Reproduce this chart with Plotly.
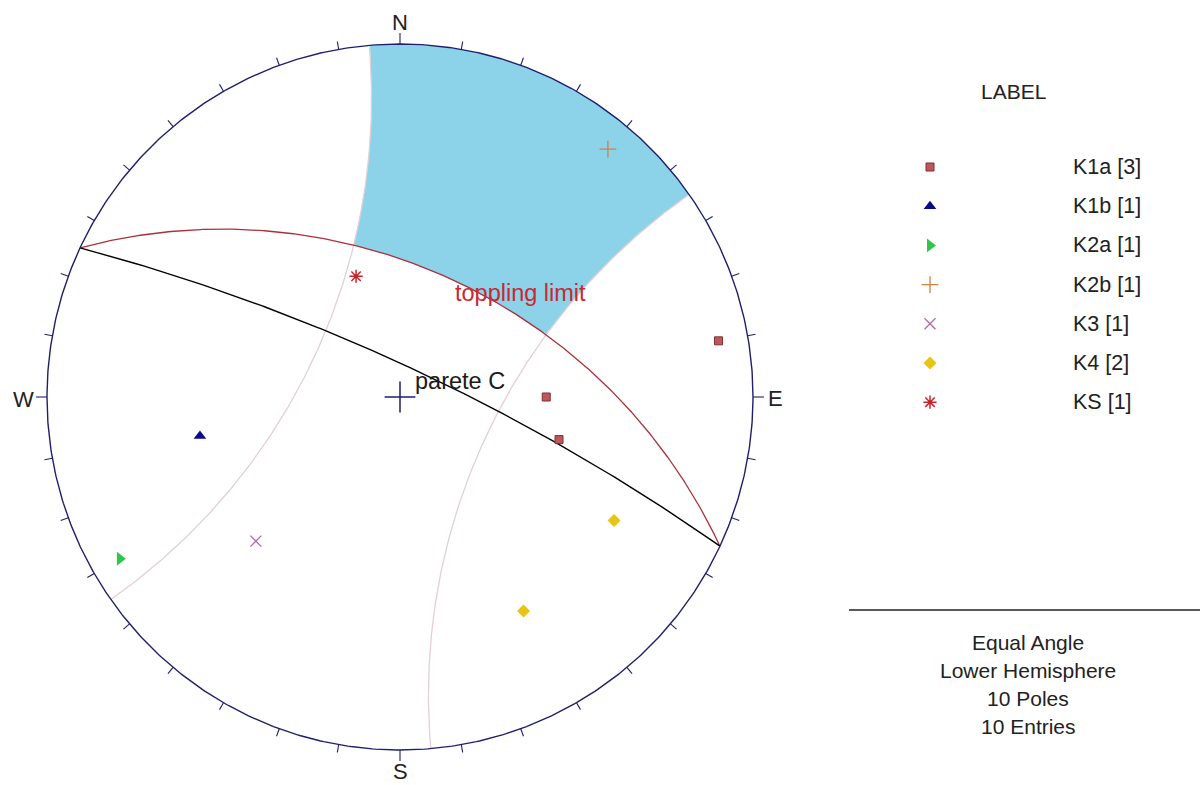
import numpy as np
import plotly.graph_objects as go

# ---- data -------------------------------------------------------------
set_names = ["K1a", "K1b", "K2a", "K2b", "K3", "K4", "KS"]
set_counts = [3, 1, 1, 1, 1, 2, 1]

# poles to planes: set, dip, dip direction (degrees)
pole_set = ["K1a", "K1a", "K1a", "K1b", "K2a", "K2b", "K3", "K4", "K4", "KS"]
pole_dip = [85, 45, 50, 60, 85, 85, 60, 70, 70, 40]
pole_dipdir = [260, 270, 285, 79, 60, 220, 45, 300, 330, 160]

# slope face and toppling parameters
slope_name = "parete C"
slope_dip = 80
slope_dipdir = 25
friction_angle = 30
lateral_limit = 30

info_lines = ["Equal Angle", "Lower Hemisphere", "10 Poles", "10 Entries"]

# ---- styling ----------------------------------------------------------
W, H = 1200, 785
CX, CY, R = 400, 397, 353          # net centre and radius in pixels
FONT = "Liberation Sans, Arial, sans-serif"
NAVY = "#1f1f6b"

set_style = {
    "K1a": dict(symbol="square", size=8, color="rgb(188,88,92)",
                line=dict(color="rgb(130,45,50)", width=1)),
    "K1b": dict(symbol="triangle-up", size=11, color="rgb(10,10,140)",
                line=dict(width=0)),
    "K2a": dict(symbol="triangle-right", size=12, color="rgb(45,200,75)",
                line=dict(width=0)),
    "K2b": dict(symbol="cross-thin", size=12, color="rgb(205,130,70)",
                line=dict(color="rgb(205,130,70)", width=1.3)),
    "K3": dict(symbol="x-thin", size=11, color="rgb(175,105,175)",
               line=dict(color="rgb(175,105,175)", width=1.3)),
    "K4": dict(symbol="diamond", size=10, color="rgb(232,196,20)",
               line=dict(width=0)),
    "KS": dict(symbol="asterisk-open", size=11, color="rgb(200,35,40)",
               line=dict(color="rgb(200,35,40)", width=1.5)),
}


def px_to_data(px, py):
    return (px - CX) / R, (CY - py) / R


def polar_xy(r, az_deg):
    a = np.radians(az_deg)
    return r * np.sin(a), r * np.cos(a)


def great_circle_r(dip, dipdir, az):
    """Stereographic radius of a plane's trace along trend az (lower hemisphere)."""
    plunge = np.degrees(np.arctan(np.tan(np.radians(dip)) *
                                  np.cos(np.radians(az - dipdir))))
    return np.tan(np.radians((90 - plunge) / 2))


def great_circle(dip, dipdir, n=600):
    az = np.linspace(dipdir - 90, dipdir + 90, n)
    return polar_xy(great_circle_r(dip, dipdir, az), az)


def small_circle(axis_az, half_angle, n=1500):
    """Small circle about a horizontal axis, clipped to the primitive."""
    t = np.radians(half_angle)
    cx, cy = polar_xy(1 / np.cos(t), axis_az)
    rho = np.tan(t)
    psi = np.linspace(0, 2 * np.pi, n)
    x = cx + rho * np.cos(psi)
    y = cy + rho * np.sin(psi)
    inside = x ** 2 + y ** 2 <= 1.0 + 1e-9
    x, y = x[inside], y[inside]
    # order points along the arc
    ang = np.arctan2(y - cy, x - cx)
    ref = np.arctan2(-cy, -cx)
    ang = (ang - ref + np.pi) % (2 * np.pi)
    order = np.argsort(ang)
    return x[order], y[order]


def small_circle_hit(axis_az, half_angle, az):
    """First radius where a ray from the centre meets the small circle."""
    g = np.cos(np.radians(az - axis_az)) / np.cos(np.radians(half_angle))
    disc = g ** 2 - 1
    r = np.where((disc >= 0) & (g > 0), g - np.sqrt(np.clip(disc, 0, None)), np.inf)
    return r


topple_dip = slope_dip - friction_angle
strike = (slope_dipdir - 90) % 360
cone = 90 - lateral_limit

fig = go.Figure()

# ---- toppling critical zone ------------------------------------------
phi = np.arange(slope_dipdir - 89.9, slope_dipdir + 89.9, 0.02)
lo = great_circle_r(topple_dip, slope_dipdir, phi)
hi = np.minimum.reduce([np.ones_like(phi),
                        small_circle_hit(strike, cone, phi),
                        small_circle_hit(strike + 180, cone, phi)])
ok = lo < hi
xh, yh = polar_xy(hi[ok], phi[ok])
xl, yl = polar_xy(lo[ok][::-1], phi[ok][::-1])
fig.add_trace(go.Scatter(x=np.r_[xh, xl], y=np.r_[yh, yl], mode="lines",
                         fill="toself", fillcolor="rgb(140,210,232)",
                         line=dict(width=0), hoverinfo="skip"))

# ---- lateral limits ---------------------------------------------------
for ax_az in (strike, strike + 180):
    sx, sy = small_circle(ax_az, cone)
    fig.add_trace(go.Scatter(x=sx, y=sy, mode="lines",
                             line=dict(color="rgb(226,208,212)", width=1.3),
                             hoverinfo="skip"))

# ---- toppling limit and slope face -----------------------------------
tx, ty = great_circle(topple_dip, slope_dipdir)
fig.add_trace(go.Scatter(x=tx, y=ty, mode="lines",
                         line=dict(color="rgb(172,48,58)", width=1.3),
                         hoverinfo="skip"))
gx, gy = great_circle(slope_dip, slope_dipdir)
fig.add_trace(go.Scatter(x=gx, y=gy, mode="lines",
                         line=dict(color="black", width=1.4),
                         hoverinfo="skip"))

# ---- primitive circle and ticks --------------------------------------
a = np.linspace(0, 360, 721)
px, py = polar_xy(np.ones_like(a), a)
fig.add_trace(go.Scatter(x=px, y=py, mode="lines",
                         line=dict(color=NAVY, width=1.4), hoverinfo="skip"))
tick_x, tick_y = [], []
for az in range(0, 360, 10):
    length = 11 / R if az % 90 == 0 else 8 / R
    x0, y0 = polar_xy(1.0, az)
    x1, y1 = polar_xy(1.0 + length, az)
    tick_x += [x0, x1, None]
    tick_y += [y0, y1, None]
fig.add_trace(go.Scatter(x=tick_x, y=tick_y, mode="lines",
                         line=dict(color=NAVY, width=1.1), hoverinfo="skip"))

# centre cross
fig.add_trace(go.Scatter(x=[0], y=[0], mode="markers",
                         marker=dict(symbol="cross-thin", size=22,
                                     line=dict(color=NAVY, width=1.5)),
                         hoverinfo="skip"))

# ---- poles ------------------------------------------------------------
for name in set_names:
    dips = np.array([d for s, d in zip(pole_set, pole_dip) if s == name])
    dds = np.array([d for s, d in zip(pole_set, pole_dipdir) if s == name])
    r = np.tan(np.radians(dips / 2))
    x, y = polar_xy(r, dds + 180)
    st = set_style[name]
    fig.add_trace(go.Scatter(x=x, y=y, mode="markers", name=name,
                             marker=dict(symbol=st["symbol"], size=st["size"],
                                         color=st["color"], line=st["line"])))

# ---- legend (drawn by hand) ------------------------------------------
leg_px, leg_py0, leg_dy = 930, 167, 39.2
for i, name in enumerate(set_names):
    st = set_style[name]
    lx, ly = px_to_data(leg_px, leg_py0 + i * leg_dy)
    fig.add_trace(go.Scatter(x=[lx], y=[ly], mode="markers",
                             marker=dict(symbol=st["symbol"], size=st["size"],
                                         color=st["color"], line=st["line"]),
                             hoverinfo="skip"))

annotations = []


def label(text, px_, py_, size=21, color="#222", xanchor="left"):
    annotations.append(dict(x=px_ / W, y=1 - py_ / H, xref="paper", yref="paper",
                            text=text, showarrow=False, xanchor=xanchor,
                            yanchor="middle",
                            font=dict(family=FONT, size=size, color=color)))


label("LABEL", 1013, 92, xanchor="center")
for i, (name, cnt) in enumerate(zip(set_names, set_counts)):
    label(f"{name} [{cnt}]", 1071, leg_py0 + i * leg_dy, size=21.5)

for i, line in enumerate(info_lines):
    label(line, 1028, 642 + i * 28, xanchor="center")

# compass letters
label("N", 400, 23, size=22, xanchor="center")
label("S", 400, 771, size=22, xanchor="center")
label("W", 23, 399, size=22, xanchor="center")
label("E", 776, 398, size=22, xanchor="center")

# plot labels
label(slope_name, 413, 381, size=23.5, color="#1a1a1a")
label("toppling limit", 453, 293, size=23.5, color="rgb(200,40,50)")

fig.update_layout(
    width=W, height=H, margin=dict(l=0, r=0, t=0, b=0),
    paper_bgcolor="white", plot_bgcolor="white", showlegend=False,
    xaxis=dict(range=[-CX / R, (W - CX) / R], visible=False, fixedrange=True),
    yaxis=dict(range=[-(H - CY) / R, CY / R], visible=False, fixedrange=True),
    annotations=annotations,
    shapes=[dict(type="line", xref="paper", yref="paper",
                 x0=849 / W, x1=1.0, y0=1 - 610 / H, y1=1 - 610 / H,
                 line=dict(color="#222", width=1.5))],
)

fig.write_html("out.html")
